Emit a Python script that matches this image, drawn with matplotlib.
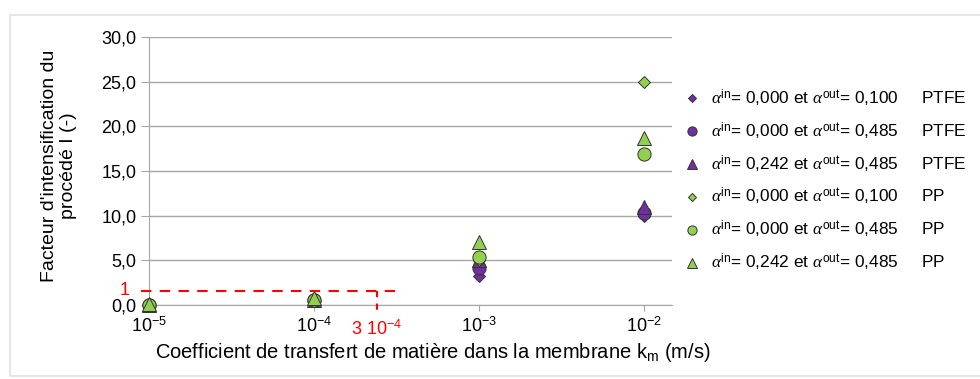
import matplotlib
matplotlib.use('Agg')
import matplotlib.pyplot as plt
from matplotlib.patches import Rectangle

plt.rcParams['font.family'] = ['Liberation Sans', 'DejaVu Sans']
plt.rcParams['mathtext.fontset'] = 'custom'
plt.rcParams['mathtext.rm'] = 'Liberation Sans'
plt.rcParams['mathtext.it'] = 'Liberation Serif:italic'
plt.rcParams['mathtext.bf'] = 'Liberation Sans:bold'

# data
km = [1e-5, 1e-4, 1e-3, 1e-2]
ptfe_010 = [0.05, 0.5, 3.2, 10.0]
ptfe_485 = [0.05, 0.55, 4.1, 10.3]
ptfe_242 = [0.05, 0.6, 5.0, 11.0]
pp_010 = [0.05, 0.5, 5.0, 25.0]
pp_485 = [0.05, 0.6, 5.4, 16.9]
pp_242 = [0.1, 0.75, 7.0, 18.7]

labels = [r'$\alpha^{\mathrm{in}}$= 0,000 et $\alpha^{\mathrm{out}}$= 0,100     PTFE',
          r'$\alpha^{\mathrm{in}}$= 0,000 et $\alpha^{\mathrm{out}}$= 0,485     PTFE',
          r'$\alpha^{\mathrm{in}}$= 0,242 et $\alpha^{\mathrm{out}}$= 0,485     PTFE',
          r'$\alpha^{\mathrm{in}}$= 0,000 et $\alpha^{\mathrm{out}}$= 0,100     PP',
          r'$\alpha^{\mathrm{in}}$= 0,000 et $\alpha^{\mathrm{out}}$= 0,485     PP',
          r'$\alpha^{\mathrm{in}}$= 0,242 et $\alpha^{\mathrm{out}}$= 0,485     PP']

seuil_y = 1.6
seuil_x = 2.4e-4

purple = '#7030a0'
green = '#92d050'

fig = plt.figure(figsize=(9.8, 3.79), dpi=100)
fig.patches.append(Rectangle((10/980, 3/379), 975/980, 361/379, transform=fig.transFigure,
                             fill=False, edgecolor='#e2e2e2', lw=1.2))
ax = fig.add_axes([149/980, 1-305/379, 523/980, 268/379])

series = [(ptfe_010, 'D', purple, 6.5), (ptfe_485, 'o', purple, 9.5), (ptfe_242, '^', purple, 9.5),
          (pp_010, 'D', green, 6.5), (pp_485, 'o', green, 9.5), (pp_242, '^', green, 9.5)]
for (vals, m, c, ms), lab in zip(series, labels):
    ax.plot(km, vals, ls='none', marker=m, color=c, ms=ms, mec='#333333', mew=0.7,
            label=lab, clip_on=False, zorder=3)

ax.set_xscale('log')
ax.set_xlim(1e-5, 10**-1.83)
ax.set_ylim(0, 30)
ax.set_yticks([0, 5, 10, 15, 20, 25, 30])
ax.set_yticklabels(['0,0', '5,0', '10,0', '15,0', '20,0', '25,0', '30,0'], fontsize=13)
ax.set_xticks(km)
ax.set_xticklabels([r'$10^{-5}$', r'$10^{-4}$', r'$10^{-3}$', r'$10^{-2}$'], fontsize=13)
ax.minorticks_off()
ax.grid(axis='y', color='#a6a6a6', lw=1)
ax.set_axisbelow(True)
for s in ['top', 'right']:
    ax.spines[s].set_visible(False)
ax.spines['left'].set_color('#a6a6a6')
ax.spines['bottom'].set_color('#a6a6a6')
ax.tick_params(axis='y', length=6, color='#a6a6a6', pad=3)
ax.tick_params(axis='x', length=4, color='#a6a6a6', pad=4)

ax.set_xlabel(r'Coefficient de transfert de matière dans la membrane k$_\mathrm{m}$ (m/s)',
              fontsize=14.5)
ax.xaxis.set_label_coords(0.543, -0.135)
ax.set_ylabel("Facteur d'intensification du\nprocédé I (-)", fontsize=14)
ax.yaxis.set_label_coords(-0.137, 0.52)

# seuil I = 1
ax.plot([8.9e-6, 3.1e-4], [seuil_y, seuil_y], color='red', ls='--', lw=1.5, dashes=(5, 4),
        clip_on=False, zorder=4)
ax.plot([seuil_x, seuil_x], [seuil_y, -0.7], color='red', ls='--', lw=1.5, dashes=(3, 3),
        clip_on=False, zorder=4)
ax.text(7.6e-6, seuil_y, '1', color='red', fontsize=13, ha='right', va='center')
ax.text(seuil_x, -1.6, r'3 $10^{-4}$', color='red', fontsize=13, ha='center', va='top')

ax.legend(loc='upper left', bbox_to_anchor=(664/980, 1-72/379), bbox_transform=fig.transFigure,
          frameon=False, fontsize=12.4, labelspacing=0.68, handletextpad=0.3, markerscale=0.7,
          handlelength=1.5)

fig.savefig('out.png', dpi=100)
